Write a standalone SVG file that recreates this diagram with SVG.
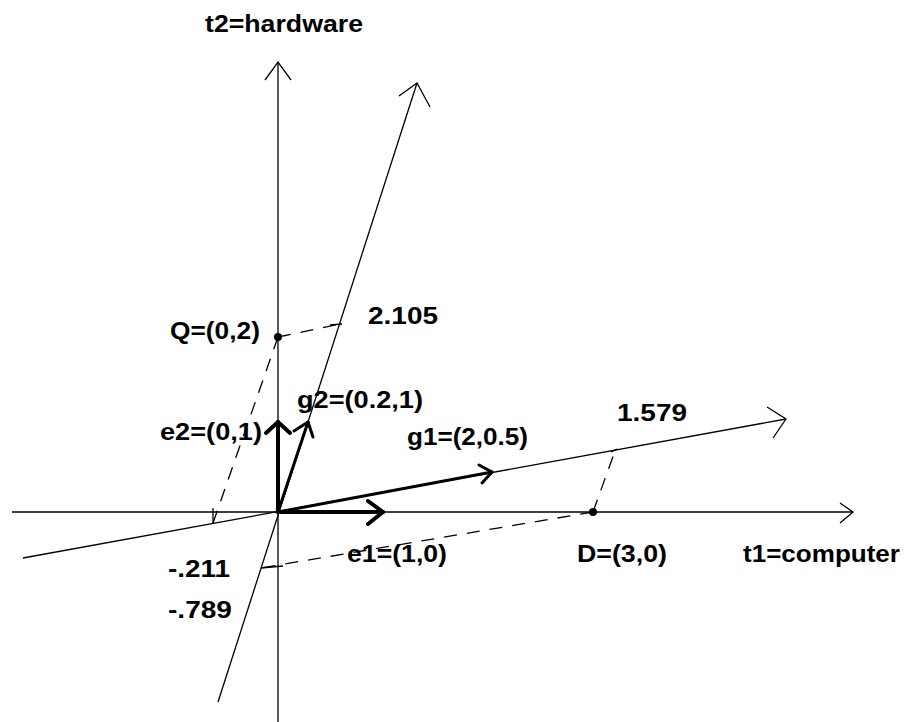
<svg xmlns="http://www.w3.org/2000/svg" width="907" height="722" viewBox="0 0 907 722">
<style>
.ax{stroke:#000;stroke-width:1.3;fill:none}
.vec{stroke:#000;stroke-width:4;fill:none;stroke-linecap:round;stroke-linejoin:round}
.vec2{stroke:#000;stroke-width:3;fill:none;stroke-linecap:round;stroke-linejoin:round}
.dash{stroke:#000;stroke-width:1.3;fill:none;stroke-dasharray:13 10}
.tick{stroke:#000;stroke-width:1.3;fill:none}
.lbl{font-family:"Liberation Sans",Arial,sans-serif;font-weight:bold;font-size:23px;fill:#000}
</style>
<rect width="907" height="722" fill="#fff"/>
<g id="connectors">
  <g id="axis-t1">
    <line class="ax" x1="12" y1="512" x2="853" y2="512"/>
    <polyline class="ax" points="840,503 853,512 840,523"/>
  </g>
  <g id="axis-t2">
    <line class="ax" x1="278" y1="62" x2="278" y2="722"/>
    <polyline class="ax" points="265,80 278,62 291,80"/>
  </g>
  <g id="axis-g1">
    <line class="ax" x1="23" y1="558" x2="786" y2="419"/>
    <polyline class="ax" points="767,407 786,419 773,438"/>
  </g>
  <g id="axis-g2">
    <line class="ax" x1="218" y1="702" x2="417" y2="83"/>
    <polyline class="ax" points="399,96 417,83 430,107"/>
  </g>
  <g id="projections">
    <line class="dash" x1="278" y1="337" x2="340" y2="324"/>
    <line class="tick" x1="330" y1="325" x2="342" y2="324"/>
    <line class="dash" x1="278" y1="337" x2="213" y2="523"/>
    <line class="tick" x1="213" y1="508" x2="213" y2="523"/>
    <line class="dash" x1="593" y1="512" x2="615" y2="451"/>
    <line class="tick" x1="611" y1="452" x2="617" y2="449"/>
    <line class="dash" x1="593" y1="512" x2="261" y2="568"/>
    <line class="tick" x1="261" y1="568" x2="283" y2="566"/>
  </g>
</g>
<g id="vectors">
  <g id="e1">
    <line class="vec" x1="278" y1="512" x2="383" y2="512"/>
    <polyline class="vec" points="368,501 383,512 368,524"/>
  </g>
  <g id="e2">
    <line class="vec" x1="278" y1="512" x2="278" y2="422"/>
    <polyline class="vec" points="266,433 278,422 290,433"/>
  </g>
  <g id="g1">
    <line class="vec2" x1="278" y1="512" x2="492" y2="472"/>
    <polyline class="vec2" points="479,465 492,472 482,483"/>
  </g>
  <g id="g2">
    <line class="vec2" x1="278" y1="512" x2="308" y2="422"/>
    <polyline class="vec2" points="294,431 308,422 313,437"/>
  </g>
</g>
<g id="points">
  <circle id="Q" cx="278" cy="337" r="4" fill="#000"/>
  <circle id="D" cx="593" cy="512" r="4" fill="#000"/>
</g>
<g id="labels">
  <text class="lbl" x="205" y="32" textLength="158" lengthAdjust="spacingAndGlyphs">t2=hardware</text>
  <text class="lbl" x="170" y="339" textLength="90" lengthAdjust="spacingAndGlyphs">Q=(0,2)</text>
  <text class="lbl" x="368" y="324" textLength="70" lengthAdjust="spacingAndGlyphs">2.105</text>
  <text class="lbl" x="297" y="408" textLength="126" lengthAdjust="spacingAndGlyphs">g2=(0.2,1)</text>
  <text class="lbl" x="160" y="440" textLength="102" lengthAdjust="spacingAndGlyphs">e2=(0,1)</text>
  <text class="lbl" x="407" y="445" textLength="121" lengthAdjust="spacingAndGlyphs">g1=(2,0.5)</text>
  <text class="lbl" x="617" y="421" textLength="70" lengthAdjust="spacingAndGlyphs">1.579</text>
  <text class="lbl" x="577" y="562" textLength="90" lengthAdjust="spacingAndGlyphs">D=(3,0)</text>
  <text class="lbl" x="743" y="562" textLength="157" lengthAdjust="spacingAndGlyphs">t1=computer</text>
  <text class="lbl" x="347" y="562" textLength="100" lengthAdjust="spacingAndGlyphs">e1=(1,0)</text>
  <text class="lbl" x="168" y="577" textLength="62" lengthAdjust="spacingAndGlyphs">-.211</text>
  <text class="lbl" x="168" y="618" textLength="64" lengthAdjust="spacingAndGlyphs">-.789</text>
</g>
</svg>
